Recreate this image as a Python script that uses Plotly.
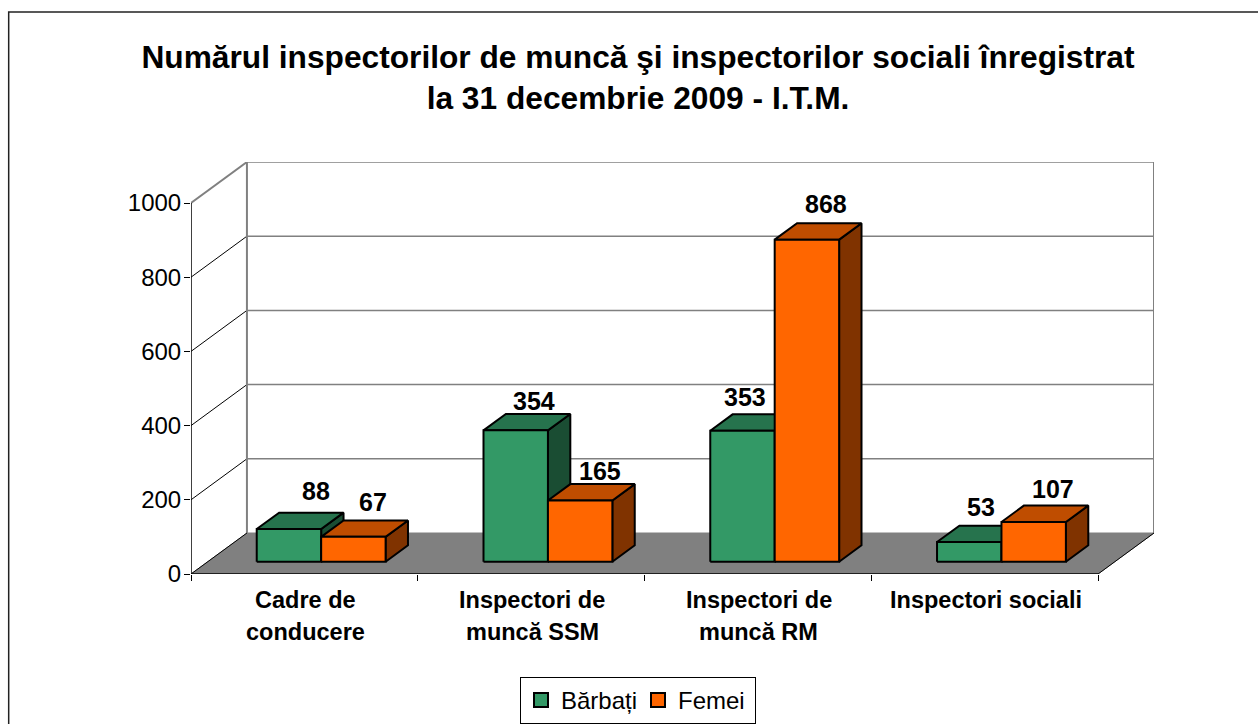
import plotly.graph_objects as go

# ---- data ----
categories = ["Cadre de|conducere", "Inspectori de|muncă SSM", "Inspectori de|muncă RM", "Inspectori sociali"]
barbati = [88, 354, 353, 53]
femei = [67, 165, 868, 107]
y_ticks = [0, 200, 400, 600, 800, 1000]
title_text = "Numărul inspectorilor de muncă şi inspectorilor sociali înregistrat<br>la 31 decembrie 2009 - I.T.M."

# ---- style / layout constants (pixels of the picture) ----
W, H = 1258, 724
L, R, T, B = 190.5, 1154.5, 162, 574
PX_CAT = 227.0           # pixels per category
PX_UNIT = 0.371          # pixels per value unit
DX = 56 / PX_CAT         # full depth in x units
DY = 41 / PX_UNIT        # full depth in y units
Z0, Z1 = 0.3, 0.7        # depth span of the bars
BAR_W = 64.5 / PX_CAT
GREEN = ("#339966", "#26734d", "#1a4d33")
ORANGE = ("#ff6600", "#bf4d00", "#803300")
GREY = "#808080"
LABEL_DX = [[27, 20], [18, 20], [3, 19], [12, 19]]
LABEL_DY = [[22, 18], [13, 13], [17, 19], [19, 17]]


def proj(x, v, z):
    return x + z * DX, v + z * DY


def poly(points, fill, line="black", width=2):
    xs, ys = zip(*points)
    return go.Scatter(x=list(xs) + [xs[0]], y=list(ys) + [ys[0]], mode="lines", fill="toself",
                      fillcolor=fill, line=dict(color=line, width=width), showlegend=False,
                      hoverinfo="skip", cliponaxis=False)


def seg(p, q, color, width):
    return go.Scatter(x=[p[0], q[0]], y=[p[1], q[1]], mode="lines", line=dict(color=color, width=width),
                      showlegend=False, hoverinfo="skip", cliponaxis=False)


fig = go.Figure()
n = len(categories)
top = y_ticks[-1]

# floor
fig.add_trace(poly([proj(0, 0, 0), proj(n, 0, 0), proj(n, 0, 1), proj(0, 0, 1)], GREY, GREY, 1))
# side wall and back wall grid
for t in y_ticks[1:]:
    fig.add_trace(seg(proj(0, t, 0), proj(0, t, 1), GREY if t == top else "black", 2 if t == top else 1))
    fig.add_trace(seg(proj(0, t, 1), proj(n, t, 1), GREY, 1.5))
fig.add_trace(seg(proj(0, 0, 1), proj(0, top, 1), GREY, 2))
fig.add_trace(seg(proj(n, 0, 1), proj(n, top, 1), GREY, 2))
fig.add_trace(seg(proj(n, 0, 0), proj(n, 0, 1), "black", 1))
fig.add_trace(seg(proj(0, 0, 0), proj(0, 0, 1), "black", 1))
# axis lines
fig.add_trace(seg((0, 0), (0, top), "black", 1.5))
fig.add_trace(seg((0, 0), (n, 0), "black", 1.5))

# bars
annotations = []
for i in range(n):
    for j, (vals, col) in enumerate(((barbati, GREEN), (femei, ORANGE))):
        v = vals[i]
        x0 = i + 0.5 - BAR_W + j * BAR_W
        x1 = x0 + BAR_W
        fig.add_trace(poly([proj(x1, 0, Z0), proj(x1, 0, Z1), proj(x1, v, Z1), proj(x1, v, Z0)], col[2]))
        fig.add_trace(poly([proj(x0, v, Z0), proj(x1, v, Z0), proj(x1, v, Z1), proj(x0, v, Z1)], col[1]))
        fig.add_trace(poly([proj(x0, 0, Z0), proj(x1, 0, Z0), proj(x1, v, Z0), proj(x0, v, Z0)], col[0]))
        lx, ly = proj((x0 + x1) / 2, v, Z1)
        annotations.append(dict(x=lx - (Z1 - Z0) * DX, y=ly, xref="x", yref="y", text=str(v), showarrow=False,
                                xanchor="center", yanchor="middle", xshift=LABEL_DX[i][j], yshift=LABEL_DY[i][j],
                                font=dict(family="Liberation Sans", size=25, color="black", weight="bold")))

# category labels, line by line
for i, c in enumerate(categories):
    for k, part in enumerate(c.split("|")):
        annotations.append(dict(x=i + 0.5, y=0, xref="x", yref="y", text=part, showarrow=False,
                                xanchor="center", yanchor="middle", xshift=1, yshift=-26 - 32 * k,
                                font=dict(family="Liberation Sans", size=23.5, color="black", weight="bold")))

# legend entries
for name, col in (("Bărbați", GREEN), ("Femei", ORANGE)):
    fig.add_trace(go.Scatter(x=[None], y=[None], mode="markers", name=name,
                             marker=dict(symbol="square", size=14, color=col[0], line=dict(color="black", width=2))))

px = (R - L)
py = (B - T)
fig.update_layout(
    width=W, height=H, autosize=False,
    paper_bgcolor="white", plot_bgcolor="rgba(0,0,0,0)",
    margin=dict(l=L, r=W - R, t=T, b=H - B, pad=0),
    title=dict(text=title_text, x=638 / W, xanchor="center", y=1 - 68 / H, yanchor="middle",
               font=dict(family="Liberation Sans", size=31.7, color="black", weight="bold")),
    xaxis=dict(range=[0, px / PX_CAT], showgrid=False, zeroline=False, showline=False,
               tickmode="array", tickvals=list(range(n + 1)), ticktext=[""] * (n + 1),
               ticks="outside", ticklen=6, tickcolor="black", tickwidth=1),
    yaxis=dict(range=[0, py / PX_UNIT], showgrid=False, zeroline=False, showline=False,
               tickmode="array", tickvals=y_ticks, ticktext=[str(t) for t in y_ticks],
               ticks="outside", ticklen=6, tickcolor="black", tickwidth=1, ticklabelstandoff=-2,
               tickfont=dict(family="Liberation Sans", size=24, color="black")),
    legend=dict(orientation="h", xref="container", yref="container", x=520 / W, y=1 - 677 / H,
                xanchor="left", yanchor="top",
                bgcolor="white", bordercolor="black", borderwidth=1,
                entrywidth=72, entrywidthmode="pixels",
                font=dict(family="Liberation Sans", size=24, color="black"), itemwidth=30),
    annotations=annotations,
    shapes=[dict(type="rect", xref="paper", yref="paper", layer="below",
                 x0=(8 - L) / px, x1=(1300 - L) / px, y0=(B - 760) / py, y1=(B - 12) / py,
                 line=dict(color="#222222", width=1.5), fillcolor="rgba(0,0,0,0)")],
)

fig.write_html("out.html", config={"displayModeBar": False},
               post_script="document.body.style.margin='0';document.documentElement.style.overflow='hidden';")
